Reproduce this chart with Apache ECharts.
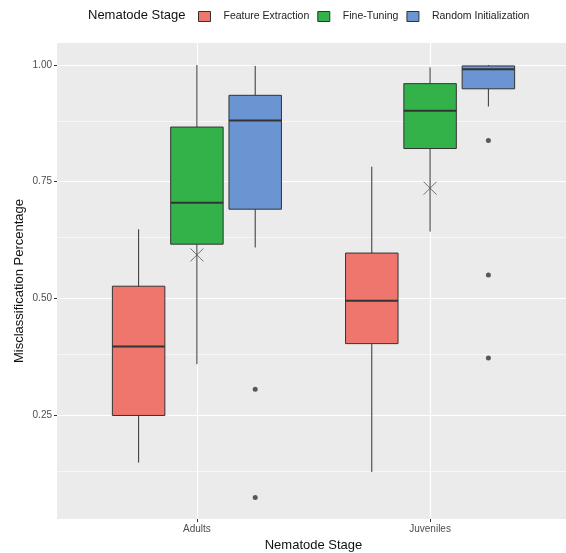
<!DOCTYPE html>
<html>
<head>
<meta charset="utf-8">
<script src="https://cdn.jsdelivr.net/npm/echarts@6/dist/echarts.min.js"></script>
<style>
  html, body { margin: 0; padding: 0; background: #fff; }
  #chart { width: 566px; height: 553px; }
</style>
</head>
<body>
<div id="chart"></div>
<script>
  // categories on the x axis
  const stages = ['Adults', 'Juveniles'];
  const groups = ['Feature Extraction', 'Fine-Tuning', 'Random Initialization'];

  // box stats per stage: [lower whisker, q1, median, q3, upper whisker]
  const featureBoxes = [[0.148, 0.249, 0.397, 0.526, 0.648], [0.128, 0.403, 0.495, 0.597, 0.782]];
  const fineTuneBoxes = [[0.359, 0.616, 0.705, 0.867, 1.000], [0.643, 0.821, 0.902, 0.960, 0.995]];
  const randomBoxes = [[0.609, 0.691, 0.881, 0.935, 0.998], [0.911, 0.949, 0.991, 0.998, 1.000]];

  // outlier points of Random Initialization: [stage index, value]
  const randomOutliers = [[0, 0.305], [0, 0.073], [1, 0.838], [1, 0.550], [1, 0.372]];
  // the X markers on the Fine-Tuning boxes
  const fineTuneMeans = [0.593, 0.736];

  const yTicks = [0.25, 0.50, 0.75, 1.00];
  const yMinor = [0.125, 0.375, 0.625, 0.875];

  const colors = ['#ef766d', '#34b24a', '#6b94d2'];
  const dodge = 0.25;     // distance between dodged boxes (x units)
  const boxW = 0.225;     // box width (x units)
  const font = 'Liberation Sans, Arial, sans-serif';

  function xPos(stageIdx, groupIdx) {
    return stageIdx + 1 + (groupIdx - 1) * dodge;
  }

  function boxData(boxes, groupIdx) {
    return boxes.map((b, i) => [xPos(i, groupIdx)].concat(b));
  }

  function renderBox(params, api) {
    const x = api.value(0);
    const lo = api.coord([x, api.value(1)]);
    const q1 = api.coord([x, api.value(2)]);
    const med = api.coord([x, api.value(3)]);
    const q3 = api.coord([x, api.value(4)]);
    const hi = api.coord([x, api.value(5)]);
    const half = api.size([boxW, 0])[0] / 2;
    const cx = lo[0];
    const stroke = '#333';
    return {
      type: 'group',
      children: [
        { type: 'line', shape: { x1: cx, y1: lo[1], x2: cx, y2: q1[1] }, style: { stroke: stroke, lineWidth: 1 } },
        { type: 'line', shape: { x1: cx, y1: q3[1], x2: cx, y2: hi[1] }, style: { stroke: stroke, lineWidth: 1 } },
        {
          type: 'rect',
          shape: { x: cx - half, y: q3[1], width: half * 2, height: q1[1] - q3[1] },
          style: { fill: api.visual('color'), stroke: stroke, lineWidth: 1 }
        },
        { type: 'line', shape: { x1: cx - half, y1: med[1], x2: cx + half, y2: med[1] }, style: { stroke: stroke, lineWidth: 2 } }
      ]
    };
  }

  const allBoxes = [featureBoxes, fineTuneBoxes, randomBoxes];

  const series = groups.map((name, g) => ({
    name: name,
    type: 'custom',
    renderItem: renderBox,
    itemStyle: { color: colors[g], borderColor: '#333', borderWidth: 1 },
    encode: { x: 0, y: [1, 2, 3, 4, 5] },
    data: boxData(allBoxes[g], g),
    z: 2
  }));

  // outliers, plus the panel grid lines as a markLine
  series.push({
    name: 'outliers',
    type: 'scatter',
    symbol: 'circle',
    symbolSize: 5,
    itemStyle: { color: '#333' },
    data: randomOutliers.map(p => [xPos(p[0], 2), p[1]]),
    z: 3,
    markLine: {
      silent: true,
      symbol: 'none',
      z: 1,
      animation: false,
      label: { show: false },
      emphasis: { disabled: true },
      data: yTicks.map(v => ({ yAxis: v, lineStyle: { color: '#fff', width: 1.2, type: 'solid' } }))
        .concat(yMinor.map(v => ({ yAxis: v, lineStyle: { color: '#fff', width: 0.6, type: 'solid' } })))
        .concat(stages.map((s, i) => ({ xAxis: i + 1, lineStyle: { color: '#fff', width: 1.2, type: 'solid' } })))
    }
  });

  // mean markers on Fine-Tuning
  series.push({
    name: 'mean',
    type: 'scatter',
    symbol: 'path://M0,0L10,10M10,0L0,10',
    symbolSize: 13,
    itemStyle: { color: 'none', borderColor: '#555', borderWidth: 1 },
    data: fineTuneMeans.map((v, i) => [xPos(i, 1), v]),
    z: 4
  });

  const option = {
    animation: false,
    textStyle: { fontFamily: font },
    title: {
      text: 'Nematode Stage',
      left: 88,
      top: 9,
      padding: 0,
      textStyle: { fontSize: 13, fontWeight: 'normal', color: '#111', fontFamily: font }
    },
    legend: {
      data: groups,
      left: 193,
      top: 6,
      icon: 'rect',
      itemWidth: 12,
      itemHeight: 10,
      itemGap: 8,
      itemStyle: { borderColor: '#333', borderWidth: 1 },
      textStyle: { fontSize: 10.5, color: '#222', fontFamily: font, padding: [0, 0, 0, 8] }
    },
    grid: {
      left: 57,
      top: 43,
      width: 513,
      height: 476,
      show: true,
      backgroundColor: '#ebebeb',
      borderWidth: 0,
      outerBoundsMode: 'none'
    },
    xAxis: {
      type: 'value',
      min: 0.4,
      max: 2.6,
      name: 'Nematode Stage',
      nameLocation: 'middle',
      nameGap: 20,
      nameMoveOverlap: false,
      nameTextStyle: { fontSize: 13, color: '#111', fontFamily: font },
      axisLine: { show: false },
      axisTick: { show: true, length: 3, customValues: [1, 2], lineStyle: { color: '#333' } },
      axisLabel: {
        customValues: [1, 2],
        formatter: v => stages[Math.round(v) - 1],
        fontSize: 10,
        color: '#4d4d4d',
        margin: 5,
        fontFamily: font
      },
      splitLine: { show: false }
    },
    yAxis: {
      type: 'value',
      min: 0.0272,
      max: 1.0471,
      name: 'Misclassification Percentage',
      nameLocation: 'middle',
      nameGap: 31,
      nameMoveOverlap: false,
      nameTextStyle: { fontSize: 13, color: '#111', fontFamily: font },
      axisLine: { show: false },
      axisTick: { show: true, length: 3, customValues: yTicks, lineStyle: { color: '#333' } },
      axisLabel: {
        customValues: yTicks,
        formatter: v => v.toFixed(2),
        fontSize: 10,
        color: '#4d4d4d',
        margin: 5,
        fontFamily: font
      },
      splitLine: { show: false }
    },
    series: series
  };

  const myChart = echarts.init(document.getElementById('chart'));
  myChart.setOption(option);
</script>
</body>
</html>
